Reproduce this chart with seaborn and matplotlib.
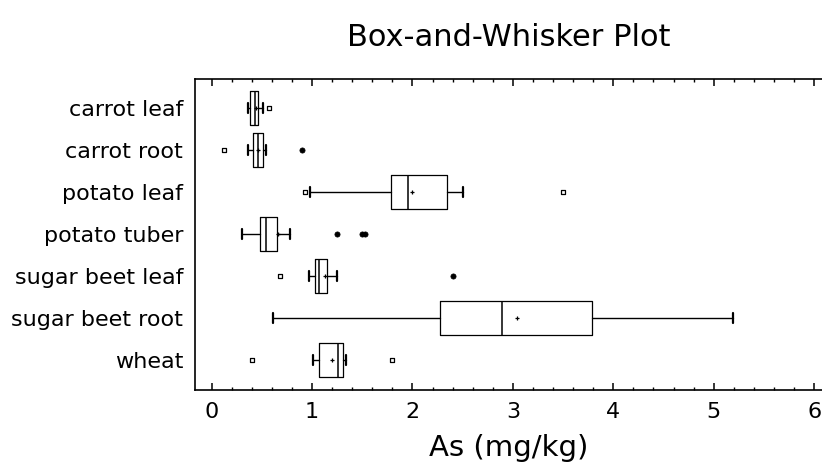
import matplotlib
matplotlib.use("Agg")
import matplotlib.pyplot as plt
from matplotlib.ticker import MultipleLocator
import seaborn as sns

categories = ["carrot leaf", "carrot root", "potato leaf", "potato tuber",
              "sugar beet leaf", "sugar beet root", "wheat"]
q1 = [0.382, 0.414, 1.79, 0.48, 1.025, 2.275, 1.066]
median = [0.435, 0.465, 1.955, 0.54, 1.066, 2.89, 1.258]
q3 = [0.46, 0.51, 2.345, 0.65, 1.148, 3.79, 1.305]
whisker_lo = [0.358, 0.358, 0.982, 0.30, 0.969, 0.607, 1.012]
whisker_hi = [0.508, 0.541, 2.50, 0.78, 1.245, 5.19, 1.341]
means = [0.44, 0.46, 2.00, 0.66, 1.13, 3.04, 1.198]
outlier_cat = ["carrot leaf", "carrot root", "potato leaf", "potato leaf",
               "sugar beet leaf", "wheat", "wheat"]
outlier_val = [0.568, 0.12, 0.93, 3.50, 0.677, 0.401, 1.80]
far_cat = ["carrot root", "potato tuber", "potato tuber", "potato tuber",
           "sugar beet leaf"]
far_val = [0.90, 1.248, 1.50, 1.53, 2.40]
x_ticks = [0, 1, 2, 3, 4, 5, 6]

sns.set_style("white")
plt.rcParams["font.family"] = ["DejaVu Sans"]
plt.rcParams["text.color"] = "black"
plt.rcParams["axes.labelcolor"] = "black"
plt.rcParams["xtick.color"] = "black"
plt.rcParams["ytick.color"] = "black"

fig = plt.figure(figsize=(8.22, 4.72), dpi=100)
ax = fig.add_axes([195 / 822, 1 - 390 / 472, 1 - 195 / 822, (390 - 79) / 472])

stats = [dict(med=m, q1=a, q3=b, whislo=lo, whishi=hi, fliers=[], label=c)
         for c, a, m, b, lo, hi in zip(categories, q1, median, q3, whisker_lo, whisker_hi)]
pos = list(range(len(categories)))
ax.bxp(stats, positions=pos, widths=0.8, orientation="horizontal",
       showfliers=False, capwidths=0.22, manage_ticks=False,
       boxprops=dict(color="black", linewidth=0.9),
       whiskerprops=dict(color="black", linewidth=1.0),
       capprops=dict(color="black", linewidth=1.6),
       medianprops=dict(color="black", linewidth=1.1))

idx = {c: i for i, c in enumerate(categories)}
sns.scatterplot(x=outlier_val, y=[idx[c] for c in outlier_cat], marker="s", s=9,
                facecolor="white", edgecolor="black", linewidth=0.9, ax=ax, zorder=3)
sns.scatterplot(x=far_val, y=[idx[c] for c in far_cat], marker="o", s=14,
                color="black", edgecolor="black", linewidth=0.5, ax=ax, zorder=3)
sns.scatterplot(x=means, y=pos, marker="+", s=12, color="black", linewidth=0.9,
                ax=ax, zorder=3)

ax.set_xlim(-0.166, 6.079)
ax.set_ylim(6.714, -0.69)
ax.set_xticks(x_ticks)
ax.set_xticklabels([str(t) for t in x_ticks])
ax.xaxis.set_minor_locator(MultipleLocator(0.2))
ax.set_yticks(pos)
ax.set_yticklabels(categories)
ax.tick_params(axis="x", which="both", direction="in", top=True, bottom=True,
               color="black", labelcolor="black", labelsize=16, pad=9)
ax.tick_params(axis="x", which="major", length=5, width=1.1)
ax.tick_params(axis="x", which="minor", length=2.5, width=1.0)
ax.tick_params(axis="y", length=0, labelsize=16, pad=8.5, labelcolor="black")

for s in ["left", "top", "bottom"]:
    ax.spines[s].set_visible(True)
    ax.spines[s].set_color("black")
    ax.spines[s].set_linewidth(1.2)
ax.spines["right"].set_visible(False)

ax.set_xlabel("As (mg/kg)", fontsize=21, labelpad=8, color="black")
ax.set_ylabel("")
ax.set_title("Box-and-Whisker Plot", fontsize=22, pad=24, color="black")

fig.savefig("out.png", dpi=100)
